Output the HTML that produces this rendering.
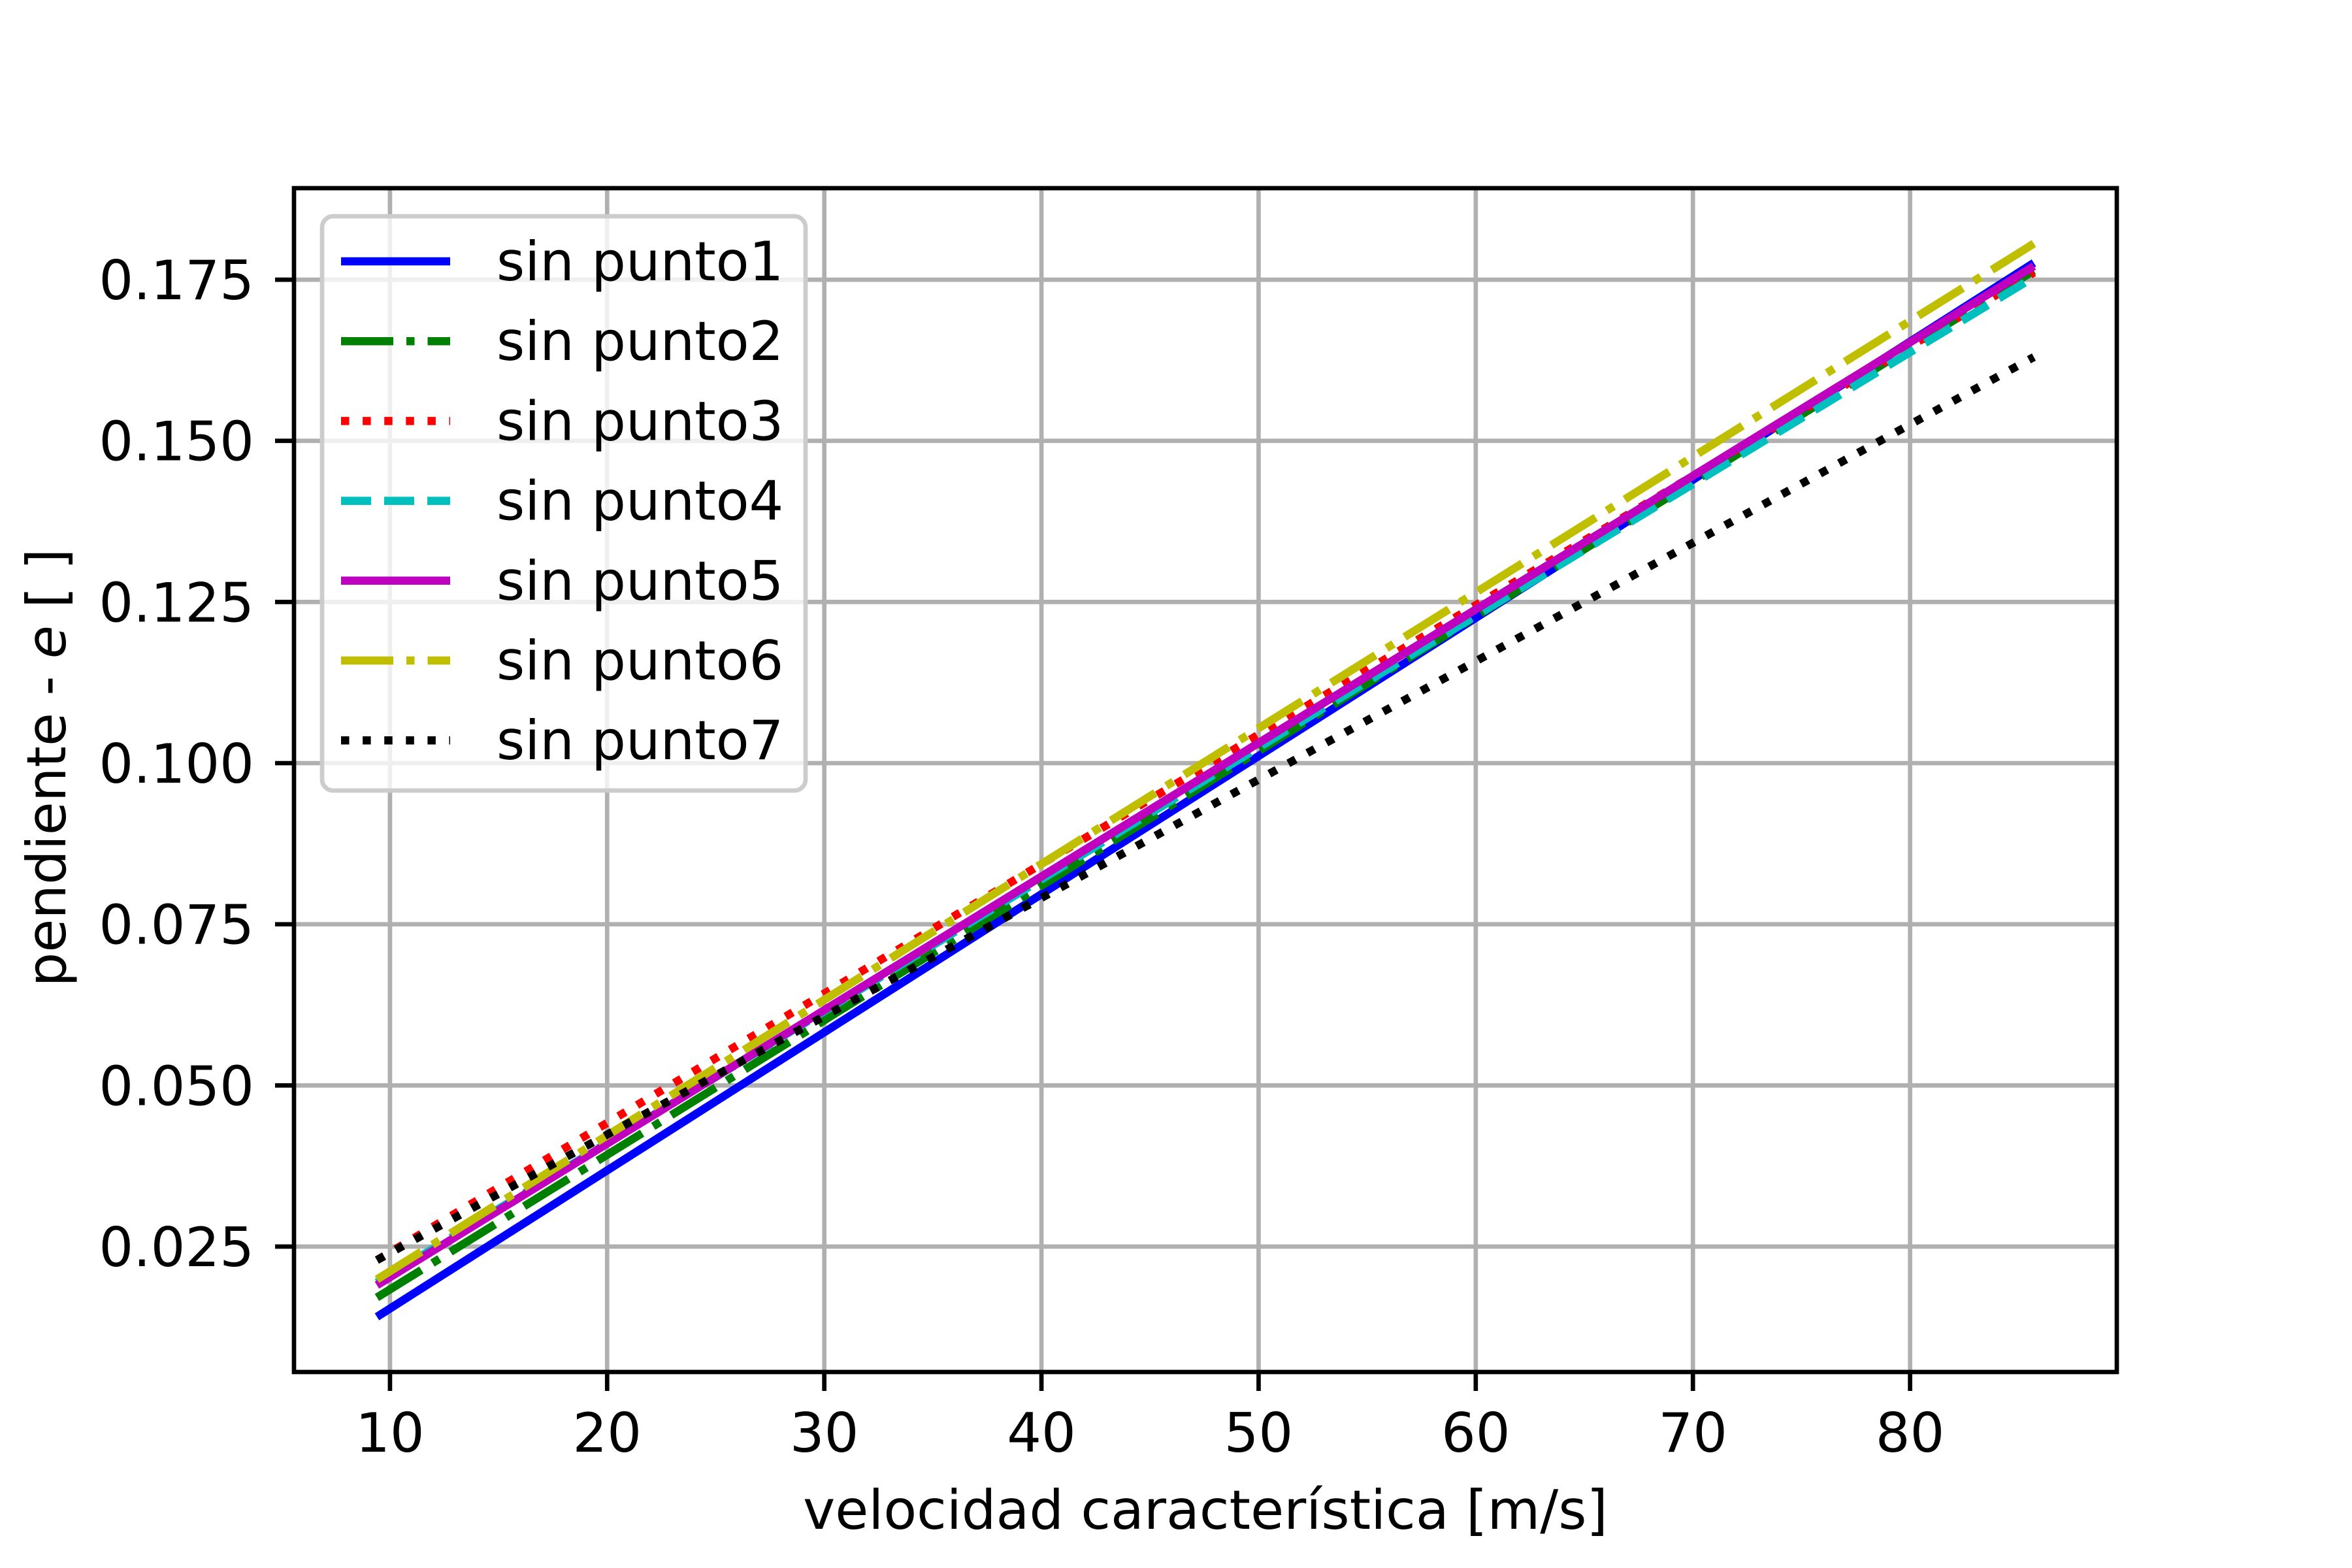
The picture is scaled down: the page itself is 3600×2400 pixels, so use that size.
<!DOCTYPE html>
<html><head><meta charset="utf-8"><style>
html,body{margin:0;padding:0;background:#fff;}
svg{display:block;font-family:"DejaVu Sans","Liberation Sans",sans-serif;}
</style></head><body>
<svg id="chart" width="3600" height="2400" viewBox="0 0 3600 2400" xmlns="http://www.w3.org/2000/svg">
<rect width="3600" height="2400" fill="#fff"/>
<g id="grid"></g>
<g id="series"></g>
<rect x="450" y="288" width="2790" height="1812" fill="none" stroke="#000" stroke-width="6.7"/>
<g id="ticks"></g>
<g id="legend"></g>
<text x="1845" y="2340" font-size="83" text-anchor="middle">velocidad característica [m/s]</text>
<text transform="translate(100,1175) rotate(-90)" font-size="83" text-anchor="middle">pendiente - <tspan font-style="italic">e</tspan> [ ]</text>
</svg>
<script>
const xValues = [9.4, 85.7];
const seriesNames = ["sin punto1","sin punto2","sin punto3","sin punto4","sin punto5","sin punto6","sin punto7"];
const punto1 = [0.0141, 0.1776];
const punto2 = [0.0171, 0.1764];
const punto3 = [0.0229, 0.1761];
const punto4 = [0.0194, 0.1754];
const punto5 = [0.0190, 0.1771];
const punto6 = [0.0199, 0.1806];
const punto7 = [0.0229, 0.1630];
const xTicks = [10,20,30,40,50,60,70,80];
const yTicks = [0.025,0.050,0.075,0.100,0.125,0.150,0.175];
const yTickLabels = ["0.025","0.050","0.075","0.100","0.125","0.150","0.175"];

const L=450,R=3240,T=288,B=2100;
const xMin=5.58,xMax=89.52,yMin=0.00554,yMax=0.1892;
const sx=v=>L+(v-xMin)/(xMax-xMin)*(R-L);
const sy=v=>B-(v-yMin)/(yMax-yMin)*(B-T);
const NS="http://www.w3.org/2000/svg";
function mk(tag,attrs,parent){const e=document.createElementNS(NS,tag);for(const k in attrs)e.setAttribute(k,attrs[k]);parent.appendChild(e);return e;}
const grid=document.getElementById('grid'),ticks=document.getElementById('ticks'),ser=document.getElementById('series'),leg=document.getElementById('legend');

xTicks.forEach(t=>{const x=sx(t);
 const g=mk('line',{x1:x,x2:x,y1:T,y2:B,stroke:'#b0b0b0','stroke-width':6.7},grid);
 
 
 const tk=mk('line',{x1:x,x2:x,y1:B,y2:B+29,stroke:'#000','stroke-width':6.7},ticks);
 
 
 const tx=mk('text',{x:x,y:B+122,'font-size':83,'text-anchor':'middle'},ticks);
 tx.textContent=String(t);
 
 
});
yTicks.forEach((t,i)=>{const y=sy(t);
 const g=mk('line',{x1:L,x2:R,y1:y,y2:y,stroke:'#b0b0b0','stroke-width':6.7},grid);
 
 
 const tk=mk('line',{x1:L-29,x2:L,y1:y,y2:y,stroke:'#000','stroke-width':6.7},ticks);
 
 
 const tx=mk('text',{x:L-61,y:y+30,'font-size':83,'text-anchor':'end'},ticks);
 tx.textContent=yTickLabels[i];
 
 
});

const allSeries=[punto1,punto2,punto3,punto4,punto5,punto6,punto7];
const colors=['#0000ff','#008000','#ff0000','#00bfbf','#bf00bf','#bfbf00','#000000'];
const dashes=['none','80 20 12.5 20','12.5 20.6','46 20','none','80 20 12.5 20','12.5 20.6'];
allSeries.forEach((s,i)=>{
 const pts=s.map((v,j)=>sx(xValues[j])+','+sy(v)).join(' ');
 const p=mk('polyline',{points:pts,fill:'none',stroke:colors[i],'stroke-width':12.5,'stroke-dasharray':dashes[i],'stroke-linecap':'butt'},ser);
 
 
});

const box=mk('rect',{x:493,y:331,width:740,height:879,rx:17,fill:'#fff','fill-opacity':0.8,stroke:'#cccccc','stroke-width':6.7},leg);


seriesNames.forEach((n,i)=>{const y=400+i*122.2;
 const h=mk('line',{x1:522,x2:689,y1:y,y2:y,stroke:colors[i],'stroke-width':12.5,'stroke-dasharray':dashes[i]},leg);
 
 
 const t=mk('text',{x:760,y:y+29,'font-size':83},leg);
 t.textContent=n;
 
 
});
</script>
</body></html>
